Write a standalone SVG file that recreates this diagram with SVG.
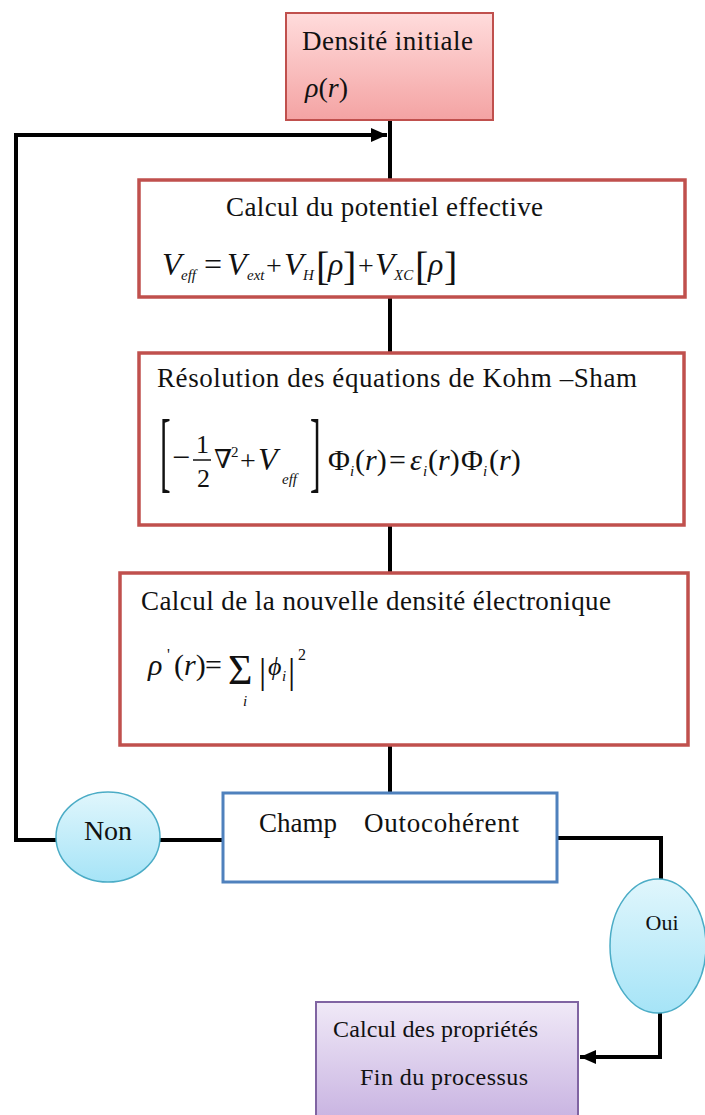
<svg xmlns="http://www.w3.org/2000/svg" width="705" height="1115" viewBox="0 0 705 1115" font-family="'Liberation Serif', 'DejaVu Serif', serif">
<defs>
<linearGradient id="gPink" x1="0" y1="0" x2="0" y2="1"><stop offset="0" stop-color="#ffdcdc"/><stop offset="1" stop-color="#f4a3a3"/></linearGradient>
<linearGradient id="gCyan" x1="0" y1="0" x2="0" y2="1"><stop offset="0" stop-color="#e0f6fc"/><stop offset="1" stop-color="#a6e4f7"/></linearGradient>
<linearGradient id="gPurple" x1="0" y1="0" x2="0" y2="1"><stop offset="0" stop-color="#f0e9f7"/><stop offset="1" stop-color="#c6b0e0"/></linearGradient>
<marker id="arr" markerUnits="userSpaceOnUse" markerWidth="18" markerHeight="16" refX="16" refY="8" orient="auto"><path d="M0,1 L16,8 L0,15 z" fill="#000"/></marker>
<style>
text{font-family:"Liberation Serif","DejaVu Serif",serif;fill:#111;}
.t{font-size:27px;}
.s{font-size:24px;}
.m{font-size:32px;}
.f{font-size:30px;}
.pl{font-size:28px;}
.it{font-style:italic;}
.sub{font-size:15px;font-style:italic;}
.redbox{fill:#fff;stroke:#c0504d;stroke-width:3.5;}
.conn{fill:none;stroke:#000;stroke-width:4;}
.oval{fill:url(#gCyan);stroke:#4bacc6;stroke-width:1.5;}
</style>
</defs>

<g id="connectors">
<path class="conn" d="M56,840 H16 V135 H387" marker-end="url(#arr)"/>
<line class="conn" x1="223" y1="840" x2="160" y2="840"/>
<line class="conn" x1="390" y1="120" x2="390" y2="180"/>
<line class="conn" x1="390" y1="297" x2="390" y2="353"/>
<line class="conn" x1="390" y1="525" x2="390" y2="573"/>
<line class="conn" x1="390" y1="745" x2="390" y2="793"/>
<path class="conn" d="M557,838 H661 V880"/>
<path class="conn" d="M660,1013 V1057 H580" marker-end="url(#arr)"/>
</g>

<g id="n-init">
<rect x="286" y="13" width="207" height="107" fill="url(#gPink)" stroke="#c0504d" stroke-width="2"/>
<text class="t" x="302" y="50" textLength="171">Densité initiale</text>
<text x="305" y="97" font-size="28"><tspan class="it">ρ</tspan>(<tspan class="it">r</tspan>)</text>
</g>

<g id="n-veff">
<rect class="redbox" x="139" y="180" width="546" height="117"/>
<text class="t" x="226" y="216" textLength="317">Calcul du potentiel effective</text>
<text class="m">
<tspan class="it" x="162" y="275">V</tspan><tspan class="sub" x="181" y="280">eff</tspan>
<tspan x="204" y="275">=</tspan>
<tspan class="it" x="227" y="275">V</tspan><tspan class="sub" x="247" y="280">ext</tspan>
<tspan class="pl" x="266" y="275">+</tspan>
<tspan class="it" x="284" y="275">V</tspan><tspan class="sub" x="303" y="280">H</tspan>
<tspan x="316" y="280" font-size="40">[</tspan><tspan class="it" x="328" y="275">ρ</tspan><tspan x="343" y="280" font-size="40">]</tspan>
<tspan class="pl" x="358" y="275">+</tspan>
<tspan class="it" x="375" y="275">V</tspan><tspan class="sub" x="394" y="280">XC</tspan>
<tspan x="415" y="280" font-size="40">[</tspan><tspan class="it" x="428" y="275">ρ</tspan><tspan x="444" y="280" font-size="40">]</tspan>
</text>
</g>

<g id="n-ks">
<rect class="redbox" x="139" y="353" width="545" height="172"/>
<text class="t" x="157" y="387" textLength="480">Résolution des équations de Kohm –Sham</text>
<text class="m" transform="translate(160 481) scale(1 2.8)">[</text>
<text class="m" x="172" y="468">−</text>
<text x="196" y="453" font-size="26">1</text>
<line x1="193" y1="460" x2="211" y2="460" stroke="#111" stroke-width="1.5"/>
<text x="197" y="487" font-size="26">2</text>
<text x="214" y="468" font-size="26">∇</text>
<text x="231" y="457" font-size="15">2</text>
<text class="pl" x="240" y="470">+</text>
<text class="m it" x="258" y="470">V</text>
<text class="sub" x="282" y="484">eff</text>
<text class="m" transform="translate(310 481) scale(1 2.8)">]</text>
<text class="f"><tspan x="328" y="470">Φ</tspan><tspan class="sub" x="350" y="476">i</tspan><tspan x="355" y="470">(</tspan><tspan class="it">r</tspan><tspan>)</tspan><tspan x="389">=</tspan><tspan class="it" x="410">ε</tspan><tspan class="sub" x="423" y="476">i</tspan><tspan x="428" y="470">(</tspan><tspan class="it">r</tspan><tspan>)</tspan><tspan x="461">Φ</tspan><tspan class="sub" x="483" y="476">i</tspan><tspan x="489" y="470">(</tspan><tspan class="it">r</tspan><tspan>)</tspan></text>
</g>

<g id="n-density">
<rect class="redbox" x="120" y="573" width="568" height="172"/>
<text class="t" x="141" y="610" textLength="470">Calcul de la nouvelle densité électronique</text>
<text font-size="30"><tspan class="it" x="148" y="675">ρ</tspan><tspan x="167" y="660" font-size="16">'</tspan><tspan x="174" y="675">(</tspan><tspan class="it">r</tspan><tspan>)</tspan><tspan x="205">=</tspan></text>
<text x="228" y="684" font-size="42">Σ</text>
<text class="sub" x="243" y="706" font-size="13">i</text>
<text x="259" y="683" font-size="36">|</text>
<text class="it" x="268" y="675" font-size="26">ϕ</text>
<text class="sub" x="282" y="681" font-size="12">i</text>
<text x="288" y="683" font-size="36">|</text>
<text x="298" y="660" font-size="16">2</text>
</g>

<g id="n-scf">
<rect x="223" y="793" width="334" height="89" fill="#fff" stroke="#4f81bd" stroke-width="3"/>
<text class="t" x="259" y="832">Champ</text>
<text class="t" x="364" y="832" textLength="155">Outocohérent</text>
</g>

<g id="n-non">
<ellipse class="oval" cx="108" cy="837" rx="52" ry="45"/>
<text x="108" y="840" font-size="28" text-anchor="middle">Non</text>
</g>

<g id="n-oui">
<ellipse class="oval" cx="658" cy="946" rx="48" ry="67"/>
<text x="662" y="930" font-size="22" text-anchor="middle">Oui</text>
</g>

<g id="n-end">
<rect x="316" y="1002" width="262" height="125" fill="url(#gPurple)" stroke="#8064a2" stroke-width="2"/>
<text class="s" x="333" y="1037" textLength="205">Calcul des propriétés</text>
<text class="s" x="360" y="1085" textLength="168">Fin du processus</text>
</g>
</svg>
